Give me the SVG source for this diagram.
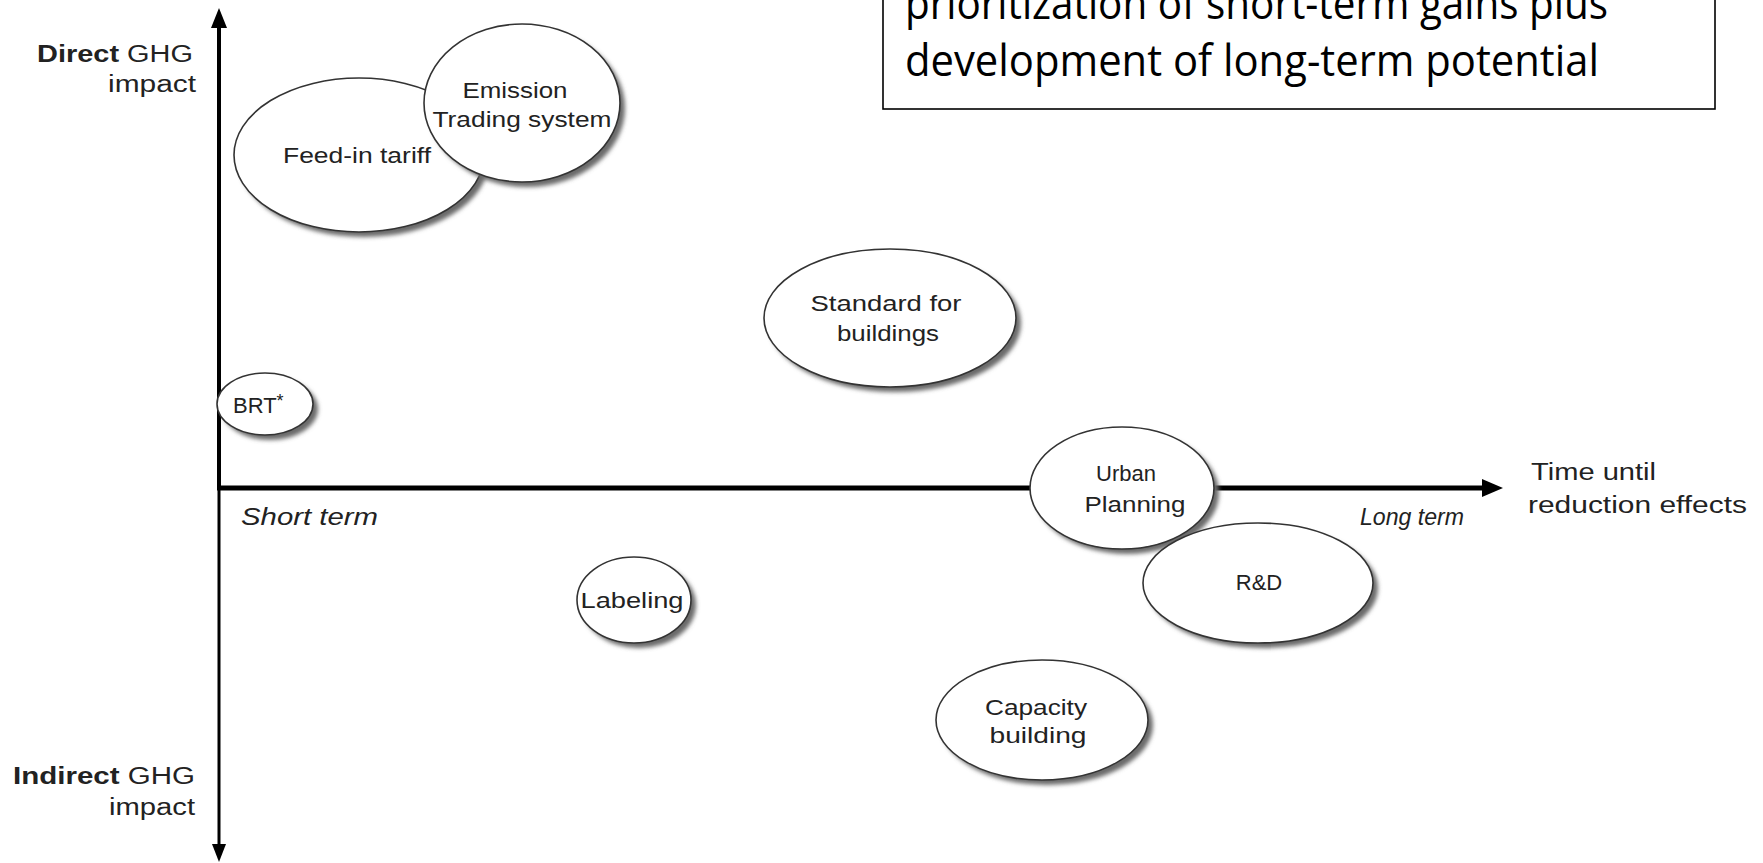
<svg xmlns="http://www.w3.org/2000/svg" width="1763" height="863" viewBox="0 0 1763 863">
<style>
.lbl{font-family:"Liberation Sans",Arial,sans-serif;font-size:22px;fill:#222;}
.ax{font-family:"Liberation Sans",Arial,sans-serif;font-size:23px;fill:#222;}
.it{font-style:italic;}
.bubble{fill:#fff;stroke:#333;stroke-width:1.6;}
.shadow{fill:#6a6a6a;filter:url(#blur);}
.box{font-family:"Open Sans","Noto Sans",sans-serif;font-size:44px;fill:#000;}
</style>
<defs>
<filter id="blur" x="-20%" y="-20%" width="140%" height="140%"><feGaussianBlur stdDeviation="2"/></filter>
</defs>
<rect width="1763" height="863" fill="#fff"/>

<g id="connectors">
<line x1="219" y1="26" x2="219" y2="488" stroke="#000" stroke-width="4"/>
<path d="M219,8 L211,28 L227,28 Z" fill="#000"/>
<line x1="219" y1="486" x2="219" y2="846" stroke="#000" stroke-width="3"/>
<path d="M219,862 L212,844 L226,844 Z" fill="#000"/>
<line x1="217" y1="488" x2="1484" y2="488" stroke="#000" stroke-width="5"/>
<path d="M1503,488 L1482,479 L1482,497 Z" fill="#000"/>
</g>

<g id="box">
<rect x="883" y="-10" width="832" height="119" fill="#fff" stroke="#000" stroke-width="1.6"/>
<text class="box" x="905" y="19" textLength="703" lengthAdjust="spacingAndGlyphs">prioritization of short-term gains plus</text>
<text class="box" x="905" y="76" textLength="694" lengthAdjust="spacingAndGlyphs">development of long-term potential</text>
</g>

<g id="axis-labels">
<text class="ax" x="193" y="62" text-anchor="end" textLength="156" lengthAdjust="spacingAndGlyphs"><tspan font-weight="bold">Direct</tspan> GHG</text>
<text class="ax" x="196" y="92" text-anchor="end" textLength="88" lengthAdjust="spacingAndGlyphs">impact</text>
<text class="ax" x="195" y="784" text-anchor="end" textLength="182" lengthAdjust="spacingAndGlyphs"><tspan font-weight="bold">Indirect</tspan> GHG</text>
<text class="ax" x="195" y="815" text-anchor="end" textLength="86" lengthAdjust="spacingAndGlyphs">impact</text>
<text class="ax it" x="241" y="525" textLength="137" lengthAdjust="spacingAndGlyphs">Short term</text>
<text class="ax it" x="1360" y="525" textLength="104" lengthAdjust="spacingAndGlyphs">Long term</text>
<text class="ax" x="1531" y="480" textLength="125" lengthAdjust="spacingAndGlyphs">Time until</text>
<text class="ax" x="1528" y="513" textLength="219" lengthAdjust="spacingAndGlyphs">reduction effects</text>
</g>

<g id="feed-in">
<ellipse class="shadow" cx="364" cy="160" rx="125" ry="77"/>
<ellipse class="bubble" cx="359" cy="155" rx="125" ry="77"/>
<text class="lbl" x="357" y="163" text-anchor="middle" textLength="148" lengthAdjust="spacingAndGlyphs">Feed-in tariff</text>
</g>

<g id="emission">
<ellipse class="shadow" cx="527" cy="108" rx="98" ry="79"/>
<ellipse class="bubble" cx="522" cy="103" rx="98" ry="79"/>
<text class="lbl" x="515" y="98" text-anchor="middle" textLength="105" lengthAdjust="spacingAndGlyphs">Emission</text>
<text class="lbl" x="522" y="127" text-anchor="middle" textLength="179" lengthAdjust="spacingAndGlyphs">Trading system</text>
</g>

<g id="standard">
<ellipse class="shadow" cx="895" cy="323" rx="126" ry="69"/>
<ellipse class="bubble" cx="890" cy="318" rx="126" ry="69"/>
<text class="lbl" x="886" y="311" text-anchor="middle" textLength="151" lengthAdjust="spacingAndGlyphs">Standard for</text>
<text class="lbl" x="888" y="341" text-anchor="middle" textLength="102" lengthAdjust="spacingAndGlyphs">buildings</text>
</g>

<g id="brt">
<ellipse class="shadow" cx="270" cy="409" rx="48" ry="31"/>
<ellipse class="bubble" cx="265" cy="404" rx="48" ry="31"/>
<text class="lbl" x="233" y="413">BRT<tspan font-size="18" dy="-6">*</tspan></text>
</g>

<g id="urban">
<ellipse class="shadow" cx="1127" cy="493" rx="92" ry="61"/>
<ellipse class="bubble" cx="1122" cy="488" rx="92" ry="61"/>
<text class="lbl" x="1126" y="481" text-anchor="middle">Urban</text>
<text class="lbl" x="1135" y="512" text-anchor="middle" textLength="101" lengthAdjust="spacingAndGlyphs">Planning</text>
</g>

<g id="rd">
<ellipse class="shadow" cx="1263" cy="588" rx="115" ry="60"/>
<ellipse class="bubble" cx="1258" cy="583" rx="115" ry="60"/>
<text class="lbl" x="1259" y="590" text-anchor="middle">R&amp;D</text>
</g>

<g id="labeling">
<ellipse class="shadow" cx="639" cy="605" rx="57" ry="43"/>
<ellipse class="bubble" cx="634" cy="600" rx="57" ry="43"/>
<text class="lbl" x="632" y="608" text-anchor="middle" textLength="103" lengthAdjust="spacingAndGlyphs">Labeling</text>
</g>

<g id="capacity">
<ellipse class="shadow" cx="1047" cy="725" rx="106" ry="60"/>
<ellipse class="bubble" cx="1042" cy="720" rx="106" ry="60"/>
<text class="lbl" x="1036" y="715" text-anchor="middle" textLength="102" lengthAdjust="spacingAndGlyphs">Capacity</text>
<text class="lbl" x="1038" y="743" text-anchor="middle" textLength="97" lengthAdjust="spacingAndGlyphs">building</text>
</g>
</svg>
